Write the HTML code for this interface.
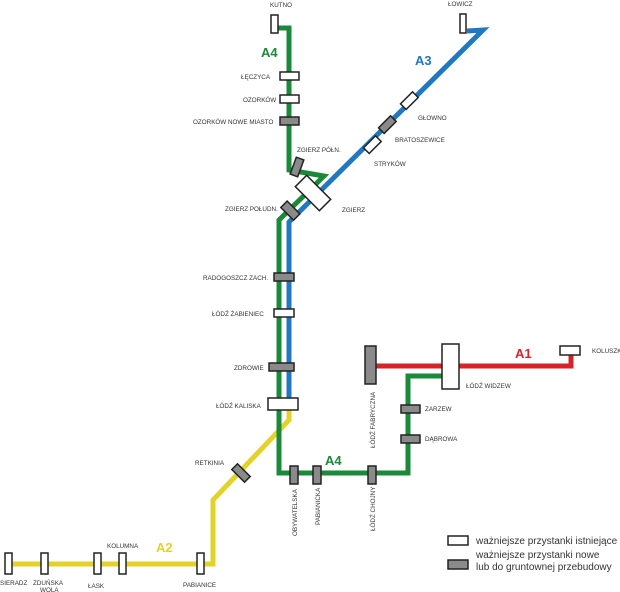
<!DOCTYPE html>
<html><head><meta charset="utf-8"><style>
body{margin:0;background:#fff}
svg{display:block}
text{font-family:"Liberation Sans",sans-serif;font-size:6.3px;fill:#333}
.L{font-size:13px;font-weight:bold}
.w{fill:#fff;stroke:#222;stroke-width:1.5}
.g{fill:#8a8a8a;stroke:#222;stroke-width:1.5}
</style></head><body>
<svg width="620" height="592" viewBox="0 0 620 592">
<g fill="none" stroke-width="5" stroke-linejoin="miter">
<polyline stroke="#e3d22a" points="8,564 213,564 213,500 289,420 289,403"/>
<polyline stroke="#d6232a" points="370,366 571,366 571,352"/>
<polyline stroke="#1f78c0" points="467,31 483,30 289,222 289,403"/>
<polyline stroke="#1a8a3a" points="274,28 289,28 289,170 324,176 279,220 279,473 408,473 408,376 445,376"/>
</g>
<text class="L" x="261" y="57" style="fill:#1a8a3a">A4</text>
<text class="L" x="415" y="65" style="fill:#1f78c0">A3</text>
<text class="L" x="515" y="358" style="fill:#d6232a">A1</text>
<text class="L" x="325" y="465" style="fill:#1a8a3a">A4</text>
<text class="L" x="156" y="552" style="fill:#e3d22a">A2</text>
<rect class="w" x="271" y="15" width="7" height="18"/>
<text x="270" y="7">KUTNO</text>
<rect class="w" x="280" y="72" width="19" height="8"/>
<text x="241" y="79">ŁĘCZYCA</text>
<rect class="w" x="280" y="95" width="19" height="8"/>
<text x="243" y="102">OZORKÓW</text>
<rect class="g" x="280" y="117" width="19" height="8"/>
<text x="193" y="124">OZORKÓW NOWE MIASTO</text>
<rect class="g" x="293" y="158" width="8" height="18" transform="rotate(20 297 167)"/>
<text x="297" y="152">ZGIERZ PÓŁN.</text>
<rect class="w" x="296" y="185" width="34" height="16" transform="rotate(45 313 193)"/>
<text x="342" y="212">ZGIERZ</text>
<rect class="g" x="281" y="206" width="18" height="9" transform="rotate(45 290 211)"/>
<text x="225" y="211">ZGIERZ POŁUDN.</text>
<rect class="w" x="460" y="14" width="6" height="19"/>
<text x="448" y="6">ŁOWICZ</text>
<rect class="w" x="401" y="97" width="17" height="8" transform="rotate(-45 409 101)"/>
<text x="418" y="120">GŁOWNO</text>
<rect class="g" x="379" y="121" width="17" height="8" transform="rotate(-45 387 125)"/>
<text x="395" y="142">BRATOSZEWICE</text>
<rect class="w" x="364" y="141" width="17" height="8" transform="rotate(-45 372 145)"/>
<text x="374" y="166">STRYKÓW</text>
<rect class="g" x="274" y="273" width="20" height="8"/>
<text x="203" y="280">RADOGOSZCZ ZACH.</text>
<rect class="w" x="274" y="309" width="20" height="8"/>
<text x="212" y="316">ŁÓDŹ ŻABIENIEC</text>
<rect class="g" x="269" y="363" width="25" height="8"/>
<text x="234" y="370">ZDROWIE</text>
<rect class="w" x="268" y="398" width="30" height="12"/>
<text x="216" y="408">ŁÓDŹ KALISKA</text>
<rect class="g" x="232" y="469" width="18" height="8" transform="rotate(45 241 473)"/>
<text x="195" y="465">RETKINIA</text>
<rect class="g" x="290" y="466" width="8" height="18"/>
<text transform="translate(297,536) rotate(-90)">OBYWATELSKA</text>
<rect class="g" x="313" y="466" width="8" height="18"/>
<text transform="translate(320,525) rotate(-90)">PABIANICKA</text>
<rect class="g" x="368" y="466" width="8" height="18"/>
<text transform="translate(375,531) rotate(-90)">ŁÓDŹ CHOJNY</text>
<rect class="g" x="401" y="405" width="19" height="8"/>
<text x="425" y="411">ZARZEW</text>
<rect class="g" x="401" y="435" width="19" height="8"/>
<text x="425" y="441">DĄBROWA</text>
<rect class="g" x="365" y="346" width="11" height="38"/>
<text transform="translate(375,448) rotate(-90)">ŁÓDŹ FABRYCZNA</text>
<rect class="w" x="442" y="344" width="17" height="45"/>
<text x="466" y="388">ŁÓDŹ WIDZEW</text>
<rect class="w" x="560" y="346" width="20" height="9"/>
<text x="592" y="353">KOLUSZKI</text>
<rect class="w" x="5" y="553" width="7" height="21"/>
<text x="0" y="585">SIERADZ</text>
<rect class="w" x="41" y="553" width="7" height="21"/>
<text x="33" y="585">ZDUŃSKA</text>
<text x="40" y="592">WOLA</text>
<rect class="w" x="94" y="553" width="7" height="21"/>
<text x="88" y="588">ŁASK</text>
<rect class="w" x="119" y="553" width="7" height="21"/>
<text x="107" y="548">KOLUMNA</text>
<rect class="w" x="197" y="553" width="7" height="21"/>
<text x="183" y="587">PABIANICE</text>
<rect class="w" x="448" y="536" width="20" height="9"/>
<text x="476" y="544" style="font-size:10px">ważniejsze przystanki istniejące</text>
<rect class="g" x="448" y="560" width="20" height="9"/>
<text x="476" y="558" style="font-size:10px">ważniejsze przystanki nowe</text>
<text x="476" y="570" style="font-size:10px">lub do gruntownej przebudowy</text>
</svg>
</body></html>
